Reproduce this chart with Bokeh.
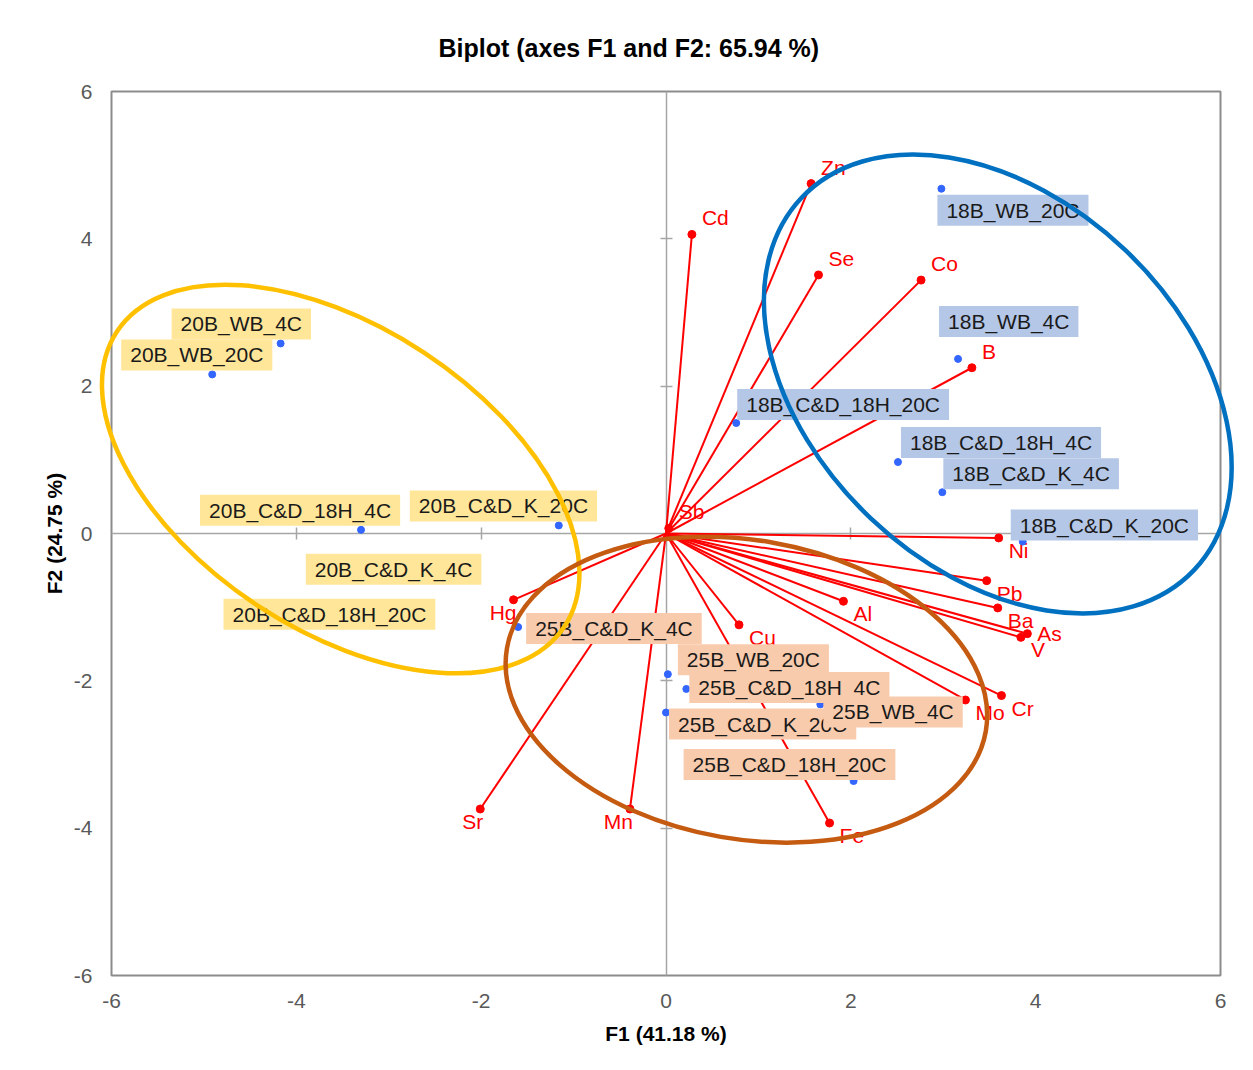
import math
from bokeh.plotting import figure
from bokeh.models import Range1d, FixedTicker, LinearAxis, Label, ColumnDataSource
from bokeh.core.properties import value
from bokeh.embed import file_html
from bokeh.resources import INLINE

# ---------------- data ----------------
variables = ["Zn", "Cd", "Se", "Co", "B", "Sb", "Ni", "Pb", "Ba", "As", "V",
             "Al", "Cu", "Mo", "Cr", "Fe", "Hg", "Sr", "Mn"]
var_f1 = [1.57, 0.28, 1.65, 2.76, 3.31, 0.03, 3.60, 3.47, 3.59, 3.91, 3.84,
          1.92, 0.79, 3.24, 3.63, 1.77, -1.65, -2.01, -0.39]
var_f2 = [4.75, 4.06, 3.51, 3.44, 2.25, 0.07, -0.06, -0.64, -1.01, -1.36, -1.41,
          -0.92, -1.24, -2.26, -2.20, -3.93, -0.90, -3.74, -3.74]

observations = ["18B_WB_20C", "18B_WB_4C", "18B_C&D_18H_20C", "18B_C&D_18H_4C",
                "18B_C&D_K_4C", "18B_C&D_K_20C",
                "20B_WB_4C", "20B_WB_20C", "20B_C&D_18H_4C", "20B_C&D_K_20C",
                "20B_C&D_K_4C", "20B_C&D_18H_20C",
                "25B_C&D_K_4C", "25B_WB_20C", "25B_C&D_18H_4C", "25B_C&D_K_20C",
                "25B_WB_4C", "25B_C&D_18H_20C"]
obs_f1 = [2.98, 3.16, 0.76, 2.51, 2.99, 3.86,
          -4.17, -4.91, -3.30, -1.16, -2.87, -3.63,
          -1.60, 0.02, 0.22, 0.00, 1.67, 2.03]
obs_f2 = [4.68, 2.37, 1.50, 0.97, 0.56, -0.11,
          2.58, 2.16, 0.05, 0.11, -0.45, -1.09,
          -1.27, -1.91, -2.11, -2.43, -2.32, -3.36]

title_text = "Biplot (axes F1 and F2: 65.94 %)"
x_label = "F1 (41.18 %)"
y_label = "F2 (24.75 %)"
tick_values = [-6, -4, -2, 0, 2, 4, 6]
tick_labels = {t: str(t) for t in tick_values}

# ---------------- styles / layout ----------------
FONT = "Liberation Sans"
group_fill = {"18B": "#B4C7E7", "20B": "#FFE699", "25B": "#F8CBAD"}

# label box placement (screen px: box top-left relative to point, dy downward)
label_offsets = {
    "18B_WB_20C": (-4, 6), "18B_WB_4C": (-19, -53), "18B_C&D_18H_20C": (1, -34),
    "18B_C&D_18H_4C": (3, -35), "18B_C&D_K_4C": (1, -34), "18B_C&D_K_20C": (-12, -32),
    "20B_WB_4C": (-109, -35), "20B_WB_20C": (-91, -35), "20B_C&D_18H_4C": (-161, -35),
    "20B_C&D_K_20C": (-149, -35), "20B_C&D_K_4C": (-95, -13), "20B_C&D_18H_20C": (-107, -15),
    "25B_C&D_K_4C": (8, -14), "25B_WB_20C": (10, -30), "25B_C&D_18H_4C": (3, -17),
    "25B_C&D_K_20C": (3, -4), "25B_WB_4C": (3, -8), "25B_C&D_18H_20C": (-170, -32),
}

# group ellipses (center in data units, size in screen px, angle in degrees)
ellipses = [
    dict(x=-3.52, y=0.74, w=536, h=303, angle=-33.4, color="#FFC000"),
    dict(x=3.59, y=2.03, w=541, h=370, angle=-43.5, color="#0070C0"),
    dict(x=0.87, y=-2.12, w=486, h=299, angle=-9.85, color="#C55A11"),
]

p = figure(width=1250, height=1068, x_range=Range1d(-6, 6), y_range=Range1d(-6, 6),
           output_backend="svg", toolbar_location=None,
           min_border_left=111, min_border_right=30, min_border_top=91, min_border_bottom=93,
           x_axis_label=x_label, y_axis_label=y_label)
p.background_fill_color = "white"
p.border_fill_color = "white"
p.grid.visible = False
p.outline_line_color = "#8C8C8C"
p.outline_line_width = 2

p.title.text = title_text
p.title.align = "left"
p.title.offset = 327
p.title.standoff = 59
p.title.text_font = FONT
p.title.text_font_size = "25px"
p.title.text_font_style = "bold"
p.title.text_color = "black"

for ax in [p.xaxis[0], p.yaxis[0]]:
    ax.ticker = FixedTicker(ticks=tick_values)
    ax.major_label_overrides = tick_labels
    ax.major_tick_line_color = None
    ax.minor_tick_line_color = None
    ax.axis_line_color = None
    ax.major_label_text_font = FONT
    ax.major_label_text_font_size = "21px"
    ax.major_label_text_color = "#595959"
    ax.axis_label_text_font = FONT
    ax.axis_label_text_font_size = "21px"
    ax.axis_label_text_font_style = "bold"
    ax.axis_label_text_color = "black"
p.xaxis.major_label_standoff = 12
p.xaxis.axis_label_standoff = 11
p.yaxis.major_label_standoff = 13
p.yaxis.axis_label_standoff = 5

# zero axes with cross ticks
for loc in ("below", "left"):
    z = LinearAxis(fixed_location=0, ticker=FixedTicker(ticks=[-4, -2, 2, 4]),
                   major_label_text_color=None, major_label_text_font_size="0px",
                   major_tick_in=6, major_tick_out=6,
                   axis_line_color="#A6A6A6", axis_line_width=1.5,
                   major_tick_line_color="#A6A6A6", major_tick_line_width=1.5,
                   minor_tick_line_color=None)
    z.level = "underlay"
    p.add_layout(z, loc)

# variable vectors
vsrc = ColumnDataSource(dict(
    x0=[0.0] * len(variables), y0=[0.0] * len(variables),
    x=var_f1, y=var_f2, name=variables))
p.segment(x0="x0", y0="y0", x1="x", y1="y", source=vsrc, line_color="#FF0000", line_width=2)
p.scatter(x="x", y="y", source=vsrc, size=8, color="#FF0000")

# variable labels
xo, yo, al, bl = [], [], [], []
for n, fx, fy in zip(variables, var_f1, var_f2):
    if n == "As":
        xo.append(10); yo.append(0); al.append("left"); bl.append("middle")
    elif fx < 0:
        xo.append(3); yo.append(1); al.append("right"); bl.append("top")
    elif fy > 0:
        xo.append(10); yo.append(-5); al.append("left"); bl.append("bottom")
    else:
        xo.append(10); yo.append(1); al.append("left"); bl.append("top")
vsrc.data.update(xo=xo, yo=yo, al=al, bl=bl)
p.text(x="x", y="y", text="name", source=vsrc, x_offset="xo", y_offset="yo",
       text_align="al", text_baseline="bl", text_color="#FF0000",
       text_font=value(FONT), text_font_size="21px")

# observations
p.scatter(x=obs_f1, y=obs_f2, size=7, color="#3366FF")
for n, fx, fy in zip(observations, obs_f1, obs_f2):
    dx, dy = label_offsets[n]
    p.add_layout(Label(x=fx, y=fy, text=n, x_offset=dx, y_offset=-dy, anchor="top_left",
                       text_font=FONT, text_font_size="21px", text_color="#1A1A1A",
                       background_fill_color=group_fill[n[:3]],
                       padding=dict(left=9, right=9, top=4, bottom=4)))

# group ellipses on top
er = p.ellipse(x=[e["x"] for e in ellipses], y=[e["y"] for e in ellipses],
               width=[e["w"] for e in ellipses], height=[e["h"] for e in ellipses],
               angle=[math.radians(e["angle"]) for e in ellipses],
               width_units="screen", height_units="screen",
               fill_color=None, line_color=[e["color"] for e in ellipses], line_width=4.5)
er.level = "overlay"

open("out.html", "w").write(file_html(p, INLINE))
